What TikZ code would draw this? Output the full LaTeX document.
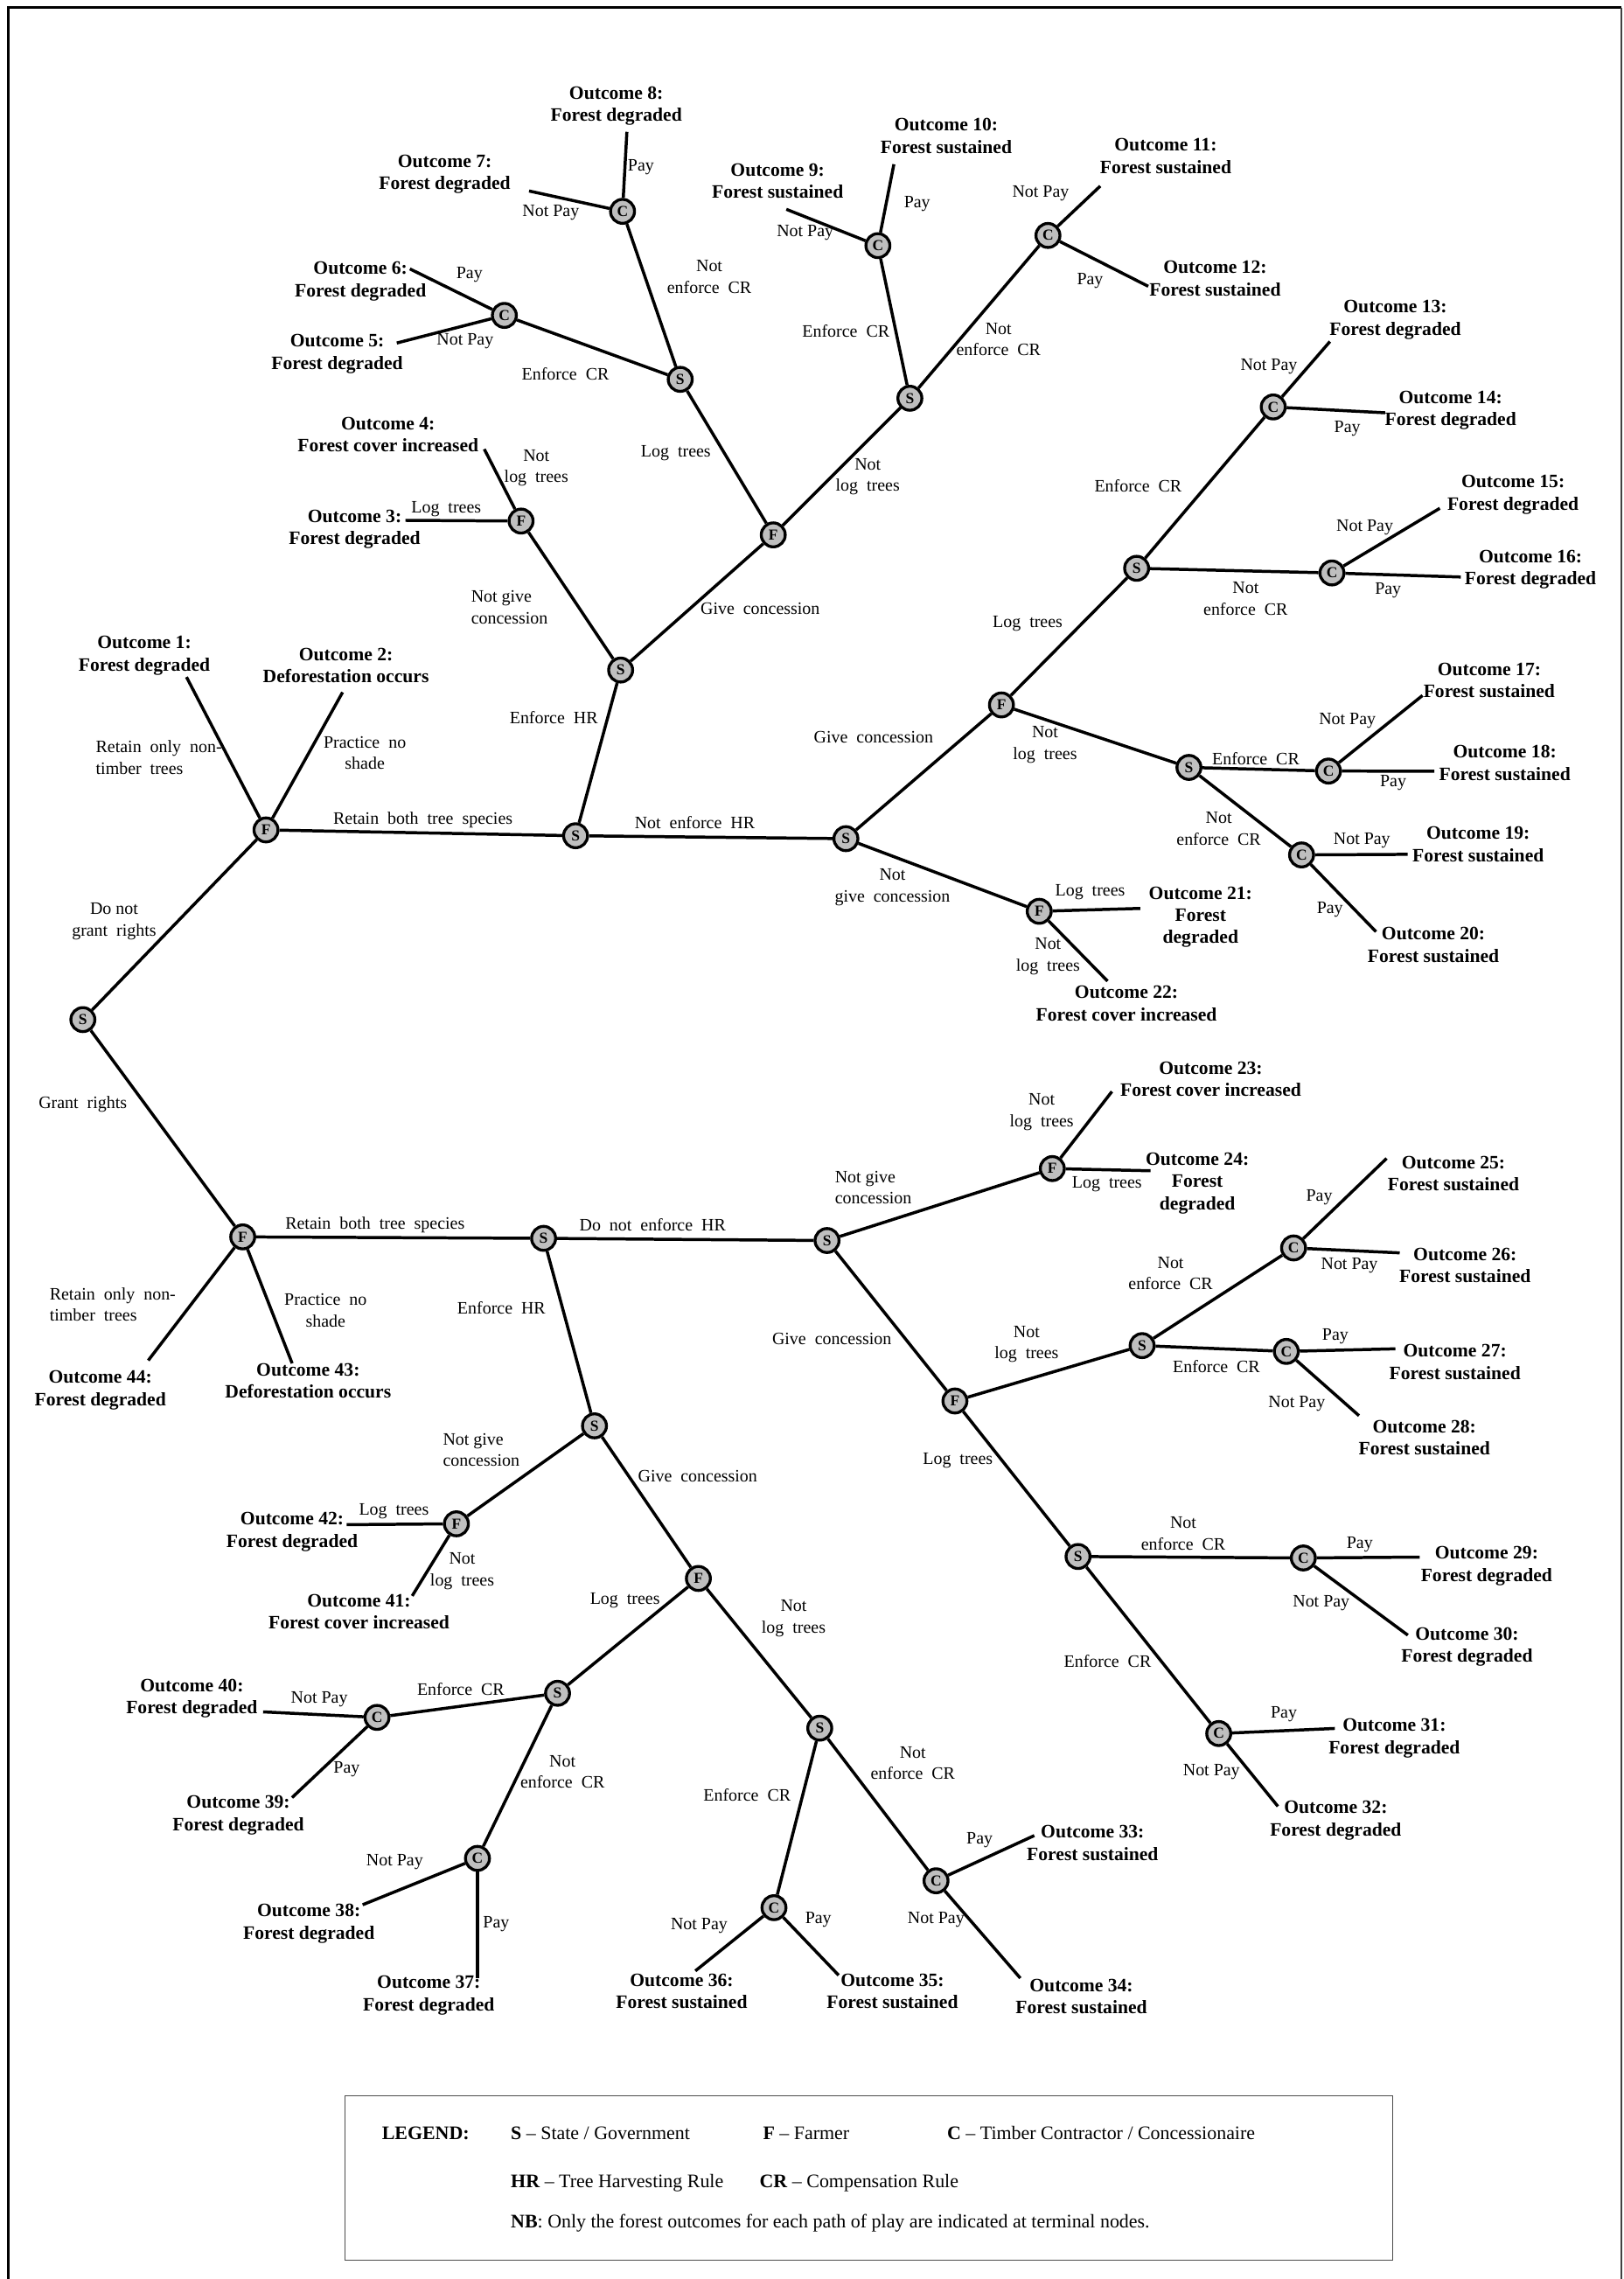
\documentclass[tikz,border=0pt]{standalone}
\usepackage{fontspec}
\setmainfont{Liberation Serif}
\begin{document}
\begin{tikzpicture}[x=1pt,y=-1pt,
  player/.style={circle, draw=black, line width=2pt, fill=black!25, inner sep=0pt,
    minimum size=16.5pt, font=\fontsize{10.5}{11}\selectfont\bfseries},
  branch/.style={line width=2.1pt},
  outcome/.style={align=center, inner sep=0pt, font=\fontsize{13}{15.3}\selectfont\bfseries},
  act/.style={align=center, inner sep=0pt, font=\fontsize{12}{14.8}\selectfont},
  actl/.style={act, align=left, anchor=west},
  legendtext/.style={anchor=base west, inner sep=0pt, font=\fontsize{13.2}{15}\selectfont}]

\useasboundingbox (0,0) rectangle (1117,1568);

% outer frame (open at the bottom)
\draw[line width=1.8pt] (6,1568) -- (6,5.4) -- (1115.5,5.4);
\draw[line width=1pt, black!75] (1115.5,5.4) -- (1115.5,1568);

% ---------------- decision nodes ----------------
\node[player] (s0)  at (57,701.5) {S};
\node[player] (f1)  at (183,571) {F};
\node[player] (f2)  at (167,851) {F};
% branch: do not grant rights
\node[player] (s1)  at (396,575) {S};
\node[player] (s2)  at (427,461) {S};
\node[player] (s3)  at (582,577) {S};
\node[player] (f3)  at (358.5,358.5) {F};
\node[player] (f4)  at (532,368) {F};
\node[player] (s4)  at (468,261) {S};
\node[player] (s5)  at (626,274) {S};
\node[player] (c1)  at (347,217) {C};
\node[player] (c2)  at (428.3,145.4) {C};
\node[player] (c3)  at (604,169) {C};
\node[player] (c4)  at (721,162) {C};
\node[player] (f5)  at (689,485) {F};
\node[player] (f6)  at (715,627) {F};
\node[player] (s6)  at (782,391) {S};
\node[player] (s7)  at (818,528) {S};
\node[player] (c5)  at (876,280) {C};
\node[player] (c6)  at (916.4,394.2) {C};
\node[player] (c7)  at (914,530.5) {C};
\node[player] (c8)  at (895.5,588.2) {C};
% branch: grant rights
\node[player] (s8)  at (374,852) {S};
\node[player] (s9)  at (569,853.5) {S};
\node[player] (s10) at (409,981) {S};
\node[player] (f7)  at (724,804) {F};
\node[player] (f8)  at (657,963.9) {F};
\node[player] (s11) at (785.8,925.8) {S};
\node[player] (s12) at (741.7,1070.9) {S};
\node[player] (c9)  at (890,858.6) {C};
\node[player] (c10) at (885,929.8) {C};
\node[player] (c11) at (896.7,1071.9) {C};
\node[player] (c12) at (838.5,1192.7) {C};
\node[player] (f9)  at (314,1048.4) {F};
\node[player] (f10) at (480.5,1086) {F};
\node[player] (s13) at (383.6,1165) {S};
\node[player] (s14) at (564,1189) {S};
\node[player] (c13) at (259.4,1181.6) {C};
\node[player] (c14) at (328.5,1278.6) {C};
\node[player] (c15) at (532.5,1312.5) {C};
\node[player] (c16) at (644,1294) {C};

% ---------------- terminal ends ----------------
\coordinate (e1)  at (128.3,465.8);
\coordinate (e2)  at (235.7,476.3);
\coordinate (e3)  at (279,358);
\coordinate (e4)  at (333.2,309);
\coordinate (e5)  at (273,236);
\coordinate (e6)  at (282,185);
\coordinate (e7)  at (364,131.4);
\coordinate (e8)  at (431.3,90.7);
\coordinate (e9)  at (541,144);
\coordinate (e10) at (615,113);
\coordinate (e11) at (757,128);
\coordinate (e12) at (790,197);
\coordinate (e13) at (915,235);
\coordinate (e14) at (953,284);
\coordinate (e15) at (990.6,349.7);
\coordinate (e16) at (1005,397);
\coordinate (e17) at (978.7,478.5);
\coordinate (e18) at (986.8,530.6);
\coordinate (e19) at (968.5,587.8);
\coordinate (e20) at (946.7,641);
\coordinate (e21) at (784.5,625);
\coordinate (e22) at (762,675);
\coordinate (e23) at (765,751);
\coordinate (e24) at (791.6,805.5);
\coordinate (e25) at (954,797);
\coordinate (e26) at (963,862);
\coordinate (e27) at (960,928);
\coordinate (e28) at (935,974);
\coordinate (e29) at (976.8,1071.3);
\coordinate (e30) at (968.6,1125);
\coordinate (e31) at (918.4,1189.2);
\coordinate (e32) at (879.2,1242.8);
\coordinate (e33) at (711.6,1262.9);
\coordinate (e34) at (702,1361);
\coordinate (e35) at (577,1359);
\coordinate (e36) at (478.4,1356);
\coordinate (e37) at (328.5,1360.9);
\coordinate (e38) at (249.5,1310.5);
\coordinate (e39) at (200.9,1236.8);
\coordinate (e40) at (181,1177.8);
\coordinate (e41) at (283.6,1098);
\coordinate (e42) at (238.5,1049);
\coordinate (e43) at (201,938);
\coordinate (e44) at (102,936);

% ---------------- branches ----------------
\draw[branch] (s0) -- (f1);
\draw[branch] (s0) -- (f2);
\draw[branch] (f1) -- (e1);
\draw[branch] (f1) -- (e2);
\draw[branch] (f1) -- (s1);
\draw[branch] (s1) -- (s2);
\draw[branch] (s1) -- (s3);
\draw[branch] (s2) -- (f3);
\draw[branch] (s2) -- (f4);
\draw[branch] (f3) -- (e3);
\draw[branch] (f3) -- (e4);
\draw[branch] (f4) -- (s4);
\draw[branch] (f4) -- (s5);
\draw[branch] (s4) -- (c1);
\draw[branch] (s4) -- (c2);
\draw[branch] (c1) -- (e6);
\draw[branch] (c1) -- (e5);
\draw[branch] (c2) -- (e7);
\draw[branch] (c2) -- (e8);
\draw[branch] (s5) -- (c3);
\draw[branch] (s5) -- (c4);
\draw[branch] (c3) -- (e9);
\draw[branch] (c3) -- (e10);
\draw[branch] (c4) -- (e11);
\draw[branch] (c4) -- (e12);
\draw[branch] (s3) -- (f5);
\draw[branch] (s3) -- (f6);
\draw[branch] (f5) -- (s6);
\draw[branch] (f5) -- (s7);
\draw[branch] (s6) -- (c5);
\draw[branch] (s6) -- (c6);
\draw[branch] (c5) -- (e13);
\draw[branch] (c5) -- (e14);
\draw[branch] (c6) -- (e15);
\draw[branch] (c6) -- (e16);
\draw[branch] (s7) -- (c7);
\draw[branch] (s7) -- (c8);
\draw[branch] (c7) -- (e17);
\draw[branch] (c7) -- (e18);
\draw[branch] (c8) -- (e19);
\draw[branch] (c8) -- (e20);
\draw[branch] (f6) -- (e21);
\draw[branch] (f6) -- (e22);
\draw[branch] (f2) -- (e44);
\draw[branch] (f2) -- (e43);
\draw[branch] (f2) -- (s8);
\draw[branch] (s8) -- (s9);
\draw[branch] (s8) -- (s10);
\draw[branch] (s9) -- (f7);
\draw[branch] (s9) -- (f8);
\draw[branch] (f7) -- (e23);
\draw[branch] (f7) -- (e24);
\draw[branch] (f8) -- (s11);
\draw[branch] (f8) -- (s12);
\draw[branch] (s11) -- (c9);
\draw[branch] (s11) -- (c10);
\draw[branch] (c9) -- (e25);
\draw[branch] (c9) -- (e26);
\draw[branch] (c10) -- (e27);
\draw[branch] (c10) -- (e28);
\draw[branch] (s12) -- (c11);
\draw[branch] (s12) -- (c12);
\draw[branch] (c11) -- (e29);
\draw[branch] (c11) -- (e30);
\draw[branch] (c12) -- (e31);
\draw[branch] (c12) -- (e32);
\draw[branch] (s10) -- (f9);
\draw[branch] (s10) -- (f10);
\draw[branch] (f9) -- (e42);
\draw[branch] (f9) -- (e41);
\draw[branch] (f10) -- (s13);
\draw[branch] (f10) -- (s14);
\draw[branch] (s13) -- (c13);
\draw[branch] (s13) -- (c14);
\draw[branch] (c13) -- (e40);
\draw[branch] (c13) -- (e39);
\draw[branch] (c14) -- (e38);
\draw[branch] (c14) -- (e37);
\draw[branch] (s14) -- (c15);
\draw[branch] (s14) -- (c16);
\draw[branch] (c15) -- (e36);
\draw[branch] (c15) -- (e35);
\draw[branch] (c16) -- (e33);
\draw[branch] (c16) -- (e34);

% ---------------- moves (branch labels) ----------------
\node[actl] (l1)  at (65.8,521) {Retain~~only~~non-\\timber~~trees};
\node[act]  (l2)  at (251,518) {Practice~~no\\shade};
\node[act]  (l3)  at (291,564) {Retain~~both~~tree~~species};
\node[act]  (l4)  at (78.5,634) {Do not\\grant~~rights};
\node[act]  (l5)  at (57,760) {Grant~~rights};
\node[act]  (l6)  at (381,494) {Enforce~~HR};
\node[act]  (l7)  at (478,566) {Not~~enforce~~HR};
\node[actl] (l8)  at (324,418) {Not give\\concession};
\node[act]  (l9)  at (523,419) {Give~~concession};
\node[act]  (l10) at (465,312) {Log~~trees};
\node[act]  (l11) at (597,328) {Not\\log~~trees};
\node[act]  (l12) at (307,350) {Log~~trees};
\node[act]  (l13) at (369,322) {Not\\log~~trees};
\node[act]  (l14) at (389,257) {Enforce~~CR};
\node[act]  (l15) at (488,190.5) {Not\\enforce~~CR};
\node[act]  (l16) at (323,189) {Pay};
\node[act]  (l17) at (320,235) {Not Pay};
\node[act]  (l18) at (379,146) {Not Pay};
\node[act]  (l19) at (441,115) {Pay};
\node[act]  (l20) at (582,228) {Enforce~~CR};
\node[act]  (l21) at (687,233.5) {Not\\enforce~~CR};
\node[act]  (l22) at (554,160) {Not Pay};
\node[act]  (l23) at (631,140) {Pay};
\node[act]  (l24) at (716,133) {Not Pay};
\node[act]  (l25) at (750,193) {Pay};
\node[act]  (l26) at (601,507) {Give~~concession};
\node[act]  (l27) at (614,610.5) {Not\\give~~concession};
\node[act]  (l28) at (707,429) {Log~~trees};
\node[act]  (l29) at (719,512.5) {Not\\log~~trees};
\node[act]  (l30) at (783,334) {Enforce~~CR};
\node[act]  (l31) at (857,412) {Not\\enforce~~CR};
\node[act]  (l32) at (873,252) {Not Pay};
\node[act]  (l33) at (927,295) {Pay};
\node[act]  (l34) at (939,363) {Not Pay};
\node[act]  (l35) at (955,406) {Pay};
\node[act]  (l36) at (864,522) {Enforce~~CR};
\node[act]  (l37) at (838.5,570) {Not\\enforce~~CR};
\node[act]  (l38) at (927,496) {Not Pay};
\node[act]  (l39) at (958.5,538.6) {Pay};
\node[act]  (l40) at (937,578) {Not Pay};
\node[act]  (l41) at (915,626) {Pay};
\node[act]  (l42) at (750,614) {Log~~trees};
\node[act]  (l43) at (721,658) {Not\\log~~trees};
\node[act]  (l44) at (258,843) {Retain~~both~~tree~~species};
\node[actl] (l45) at (34,897.5) {Retain~~only~~non-\\timber~~trees};
\node[act]  (l46) at (224,901.5) {Practice~~no\\shade};
\node[act]  (l47) at (449,843) {Do~~not~~enforce~~HR};
\node[act]  (l48) at (345,900) {Enforce~~HR};
\node[actl] (l49) at (574.3,817) {Not give\\concession};
\node[act]  (l50) at (572.3,921) {Give~~concession};
\node[act]  (l51) at (716.7,765) {Not\\log~~trees};
\node[act]  (l52) at (761.6,814.5) {Log~~trees};
\node[act]  (l53) at (706.3,924.8) {Not\\log~~trees};
\node[act]  (l54) at (659,1005) {Log~~trees};
\node[act]  (l55) at (805.4,876) {Not\\enforce~~CR};
\node[act]  (l56) at (836.9,940) {Enforce~~CR};
\node[act]  (l57) at (907.7,823.5) {Pay};
\node[act]  (l58) at (928.4,871) {Not Pay};
\node[act]  (l59) at (918.7,919.4) {Pay};
\node[act]  (l60) at (892.2,966) {Not Pay};
\node[act]  (l61) at (814.1,1055) {Not\\enforce~~CR};
\node[act]  (l62) at (762,1143) {Enforce~~CR};
\node[act]  (l63) at (935.5,1062.7) {Pay};
\node[act]  (l64) at (909,1103) {Not Pay};
\node[act]  (l65) at (883.3,1179.6) {Pay};
\node[act]  (l66) at (833.5,1219.3) {Not Pay};
\node[actl] (l67) at (304.6,997.5) {Not give\\concession};
\node[act]  (l68) at (480,1015.5) {Give~~concession};
\node[act]  (l69) at (271,1040) {Log~~trees};
\node[act]  (l70) at (318,1081) {Not\\log~~trees};
\node[act]  (l71) at (430,1101) {Log~~trees};
\node[act]  (l72) at (546,1113.5) {Not\\log~~trees};
\node[act]  (l73) at (317,1162.4) {Enforce~~CR};
\node[act]  (l74) at (387,1219) {Not\\enforce~~CR};
\node[act]  (l75) at (219.7,1169.3) {Not Pay};
\node[act]  (l76) at (238.5,1217) {Pay};
\node[act]  (l77) at (271.6,1281) {Not Pay};
\node[act]  (l78) at (341.4,1324) {Pay};
\node[act]  (l79) at (514,1235) {Enforce~~CR};
\node[act]  (l80) at (628,1213) {Not\\enforce~~CR};
\node[act]  (l81) at (481,1324.7) {Not Pay};
\node[act]  (l82) at (563,1321) {Pay};
\node[act]  (l83) at (674,1266) {Pay};
\node[act]  (l84) at (644,1321) {Not Pay};

% ---------------- outcomes ----------------
\node[outcome] (o1)  at (99.3,451) {Outcome 1:\\Forest degraded};
\node[outcome] (o2)  at (238,458) {Outcome 2:\\Deforestation occurs};
\node[outcome] (o3)  at (244,364) {Outcome 3:\\Forest degraded};
\node[outcome] (o4)  at (267,299) {Outcome 4:\\Forest cover increased};
\node[outcome] (o5)  at (232,243.5) {Outcome 5:\\Forest degraded};
\node[outcome] (o6)  at (248,193.5) {Outcome 6:\\Forest degraded};
\node[outcome] (o7)  at (306,120) {Outcome 7:\\Forest degraded};
\node[outcome] (o8)  at (424,73) {Outcome 8:\\Forest degraded};
\node[outcome] (o9)  at (535,124.5) {Outcome 9:\\Forest sustained};
\node[outcome] (o10) at (651,93.5) {Outcome 10:\\Forest sustained};
\node[outcome] (o11) at (802,107.5) {Outcome 11:\\Forest sustained};
\node[outcome] (o12) at (836,191.5) {Outcome 12:\\Forest sustained};
\node[outcome] (o13) at (960,220) {Outcome 13:\\Forest degraded};
\node[outcome] (o14) at (998,282.5) {Outcome 14:\\Forest degraded};
\node[outcome] (o15) at (1041,340.5) {Outcome 15:\\Forest degraded};
\node[outcome] (o16) at (1053,392) {Outcome 16:\\Forest degraded};
\node[outcome] (o17) at (1024.6,468) {Outcome 17:\\Forest sustained};
\node[outcome] (o18) at (1035.3,525) {Outcome 18:\\Forest sustained};
\node[outcome] (o19) at (1017,581) {Outcome 19:\\Forest sustained};
\node[outcome] (o20) at (986.2,650) {Outcome 20:\\Forest sustained};
\node[outcome] (o21) at (826,631) {Outcome 21:\\Forest\\degraded};
\node[outcome] (o22) at (775,690.5) {Outcome 22:\\Forest cover increased};
\node[outcome] (o23) at (833,742.5) {Outcome 23:\\Forest cover increased};
\node[outcome] (o24) at (823.8,814) {Outcome 24:\\Forest\\degraded};
\node[outcome] (o25) at (1000,807.5) {Outcome 25:\\Forest sustained};
\node[outcome] (o26) at (1008,870.5) {Outcome 26:\\Forest sustained};
\node[outcome] (o27) at (1001,937) {Outcome 27:\\Forest sustained};
\node[outcome] (o28) at (980,989) {Outcome 28:\\Forest sustained};
\node[outcome] (o29) at (1022.8,1077.5) {Outcome 29:\\Forest degraded};
\node[outcome] (o30) at (1009.3,1133) {Outcome 30:\\Forest degraded};
\node[outcome] (o31) at (959.3,1196) {Outcome 31:\\Forest degraded};
\node[outcome] (o32) at (919,1252.5) {Outcome 32:\\Forest degraded};
\node[outcome] (o33) at (751.7,1268) {Outcome 33:\\Forest sustained};
\node[outcome] (o34) at (744,1373.5) {Outcome 34:\\Forest sustained};
\node[outcome] (o35) at (614,1370) {Outcome 35:\\Forest sustained};
\node[outcome] (o36) at (469,1370) {Outcome 36:\\Forest sustained};
\node[outcome] (o37) at (295,1373) {Outcome 37:\\Forest degraded};
\node[outcome] (o38) at (212.5,1323.5) {Outcome 38:\\Forest degraded};
\node[outcome] (o39) at (164,1249) {Outcome 39:\\Forest degraded};
\node[outcome] (o40) at (132,1168.5) {Outcome 40:\\Forest degraded};
\node[outcome] (o41) at (247,1109) {Outcome 41:\\Forest cover increased};
\node[outcome] (o42) at (201,1054) {Outcome 42:\\Forest degraded};
\node[outcome] (o43) at (212,950) {Outcome 43:\\Deforestation occurs};
\node[outcome] (o44) at (69,956.5) {Outcome 44:\\Forest degraded};

% ---------------- legend ----------------
\node[draw=black!70, line width=0.7pt, minimum width=721pt, minimum height=113pt,
      inner sep=0pt, anchor=north west] (legend) at (237,1441.5) {};
\node[legendtext] (lgh) at (262.6,1472) {\textbf{LEGEND:}};
\node[legendtext] (lgs) at (351.3,1472) {\textbf{S} -- State / Government};
\node[legendtext] (lgf) at (524.8,1472) {\textbf{F} -- Farmer};
\node[legendtext] (lgc) at (651.5,1472) {\textbf{C} -- Timber Contractor / Concessionaire};
\node[legendtext] (lghr) at (351.3,1505) {\textbf{HR} -- Tree Harvesting Rule};
\node[legendtext] (lgcr) at (522.4,1505) {\textbf{CR} -- Compensation Rule};
\node[legendtext] (lgnb) at (351.3,1533) {\textbf{NB}: Only the forest outcomes for each path of play are indicated at terminal nodes.};

\end{tikzpicture}
\end{document}
